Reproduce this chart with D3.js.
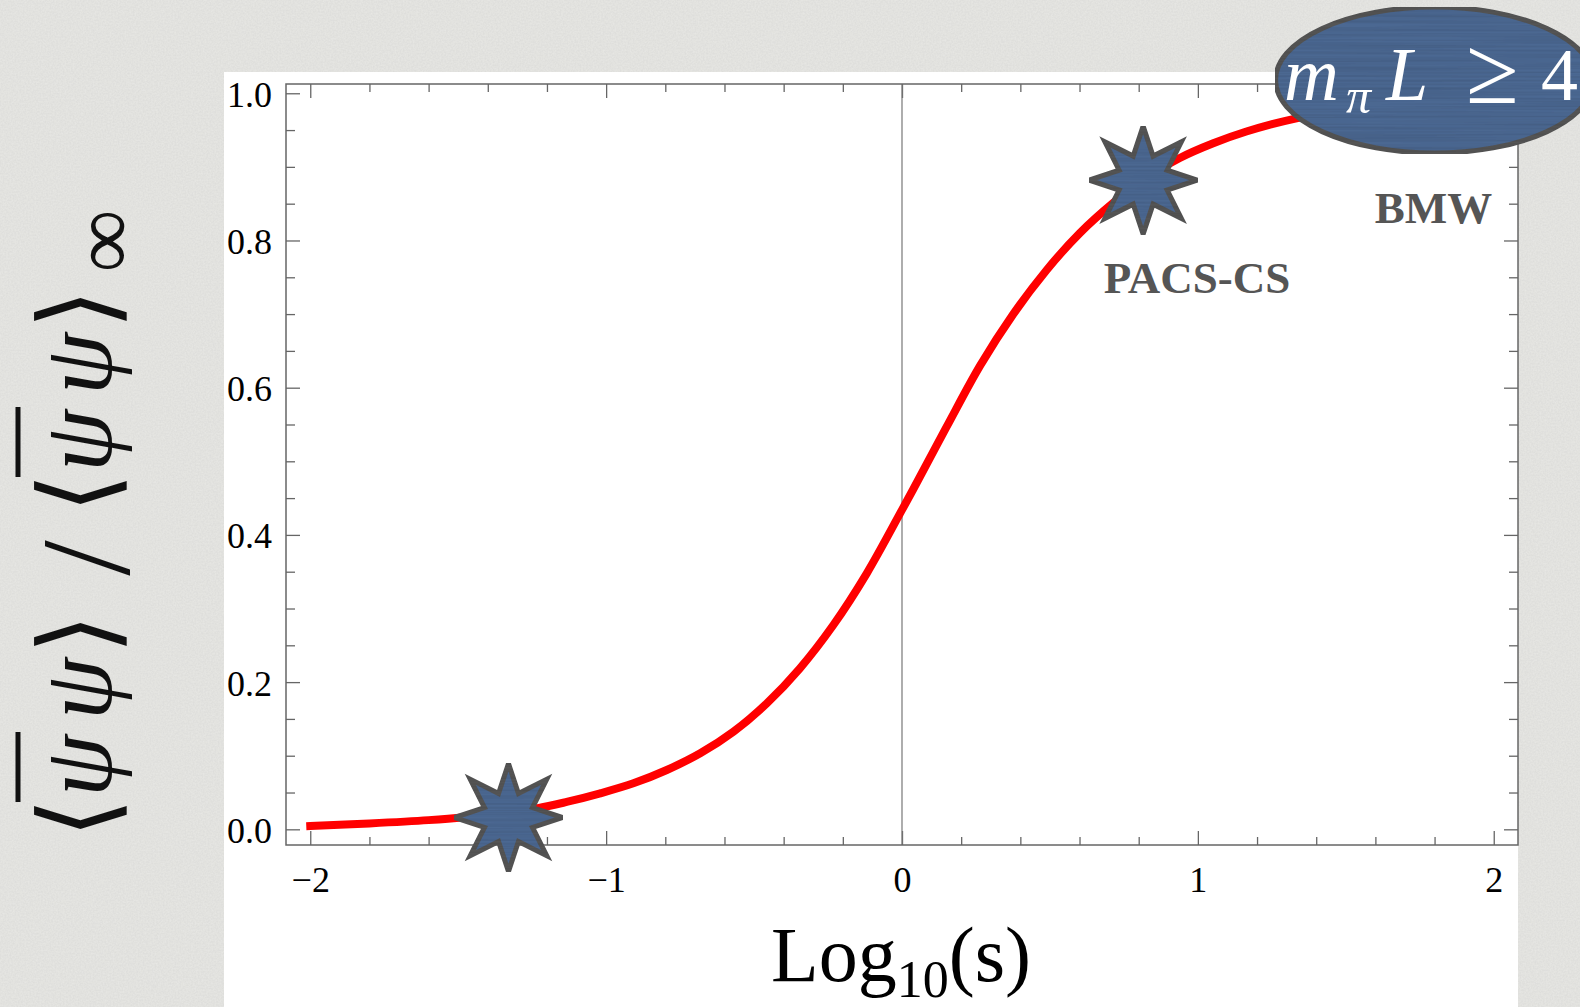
<!DOCTYPE html>
<html>
<head>
<meta charset="utf-8">
<script src="https://cdn.jsdelivr.net/npm/d3@7"></script>
<style>
  html, body { margin: 0; padding: 0; background: #e7e7e4; overflow: hidden; }
  svg { display: block; }
</style>
</head>
<body>
<div id="chart"></div>
<script>
// curve
const logS  = [-2.0, -1.8, -1.6, -1.48, -1.235, -1.13, -1.02, -0.908, -0.795, -0.682, -0.57, -0.457,
               -0.345, -0.232, -0.119, 0.0, 0.038, 0.151, 0.264, 0.376, 0.489, 0.601, 0.714,
               0.815, 0.939, 1.052, 1.164, 1.333, 1.5, 1.75, 2.0];
const ratio = [0.0045, 0.008, 0.0125, 0.0165, 0.0285, 0.0375, 0.0489, 0.0625, 0.0806, 0.1033, 0.1326, 0.1712,
               0.2188, 0.2776, 0.3478, 0.434, 0.462, 0.547, 0.630, 0.700, 0.760, 0.810, 0.851,
               0.882, 0.912, 0.932, 0.948, 0.966, 0.977, 0.987, 0.993];

// lattice results marked on the curve
const starX = [-1.33, 0.815];
const starY = [0.016, 0.882];

const xTicks = [-2, -1, 0, 1, 2];
const yTicks = [0, 0.2, 0.4, 0.6, 0.8, 1.0];
const xMinor = d3.range(-2, 2.001, 0.2).map(v => +v.toFixed(1)).filter(v => !xTicks.includes(v));
const yMinor = d3.range(0, 1.001, 0.05).map(v => +v.toFixed(2)).filter(v => !yTicks.map(t => +t.toFixed(2)).includes(v));

const width = 1580;
const height = 1007;
const serif = "'Liberation Serif', 'DejaVu Serif', serif";

const svg = d3.select('#chart')
  .append('svg')
    .attr('width', width)
    .attr('height', height);

const defs = svg.append('defs');

// fine horizontal streaks like the brushed fill in the picture
const grain = defs.append('filter').attr('id', 'grain')
    .attr('x', 0).attr('y', 0).attr('width', 1).attr('height', 1);
grain.append('feTurbulence')
    .attr('type', 'fractalNoise')
    .attr('baseFrequency', '0.004 0.5')
    .attr('numOctaves', 2)
    .attr('seed', 3)
    .attr('result', 'noise');
grain.append('feColorMatrix')
    .attr('in', 'noise')
    .attr('type', 'matrix')
    .attr('values', '0 0 0 0 0  0 0 0 0 0  0 0 0 0 0  0 0 0 0.35 -0.1')
    .attr('result', 'streaks');
grain.append('feComposite')
    .attr('in', 'streaks').attr('in2', 'SourceGraphic')
    .attr('operator', 'atop');

const paper = defs.append('filter').attr('id', 'paper')
    .attr('x', 0).attr('y', 0).attr('width', 1).attr('height', 1);
paper.append('feTurbulence')
    .attr('type', 'fractalNoise')
    .attr('baseFrequency', '0.6')
    .attr('numOctaves', 2)
    .attr('seed', 7)
    .attr('result', 'noise');
paper.append('feColorMatrix')
    .attr('in', 'noise')
    .attr('type', 'matrix')
    .attr('values', '0 0 0 0 0  0 0 0 0 0  0 0 0 0 0  0 0 0 0.12 0')
    .attr('result', 'specks');
paper.append('feComposite')
    .attr('in', 'specks').attr('in2', 'SourceGraphic')
    .attr('operator', 'atop');

svg.append('rect')
    .attr('width', width).attr('height', height)
    .attr('fill', '#e8e8e5')
    .attr('filter', 'url(#paper)');

svg.append('rect')
    .attr('x', 224).attr('y', 72)
    .attr('width', 1518 - 224).attr('height', height - 72)
    .attr('fill', '#ffffff');

// frame edges carry the plot-range padding of the original
const x = d3.scaleLinear().domain([-2.082, 2.082]).range([286, 1518]);
const y = d3.scaleLinear().domain([-0.0213, 1.0126]).range([845, 84]);

const frameColor = '#666';
const axisFont = 36;

function styleAxis(g) {
    g.select('.domain').remove();
    g.selectAll('.tick line').attr('stroke', frameColor).attr('stroke-width', 1.3);
    g.selectAll('text')
        .attr('font-family', serif)
        .attr('font-size', axisFont)
        .attr('fill', '#000');
}

// bottom
svg.append('g')
    .attr('transform', `translate(0,${y.range()[0]})`)
    .call(d3.axisBottom(x).tickValues(xMinor).tickSize(-8).tickFormat(''))
    .call(styleAxis);
svg.append('g')
    .attr('transform', `translate(0,${y.range()[0]})`)
    .call(d3.axisBottom(x).tickValues(xTicks).tickSize(-14).tickFormat(d3.format('d')))
    .call(styleAxis)
    .call(g => g.selectAll('text').attr('y', 47).attr('dy', 0));
// top
svg.append('g')
    .attr('transform', `translate(0,${y.range()[1]})`)
    .call(d3.axisTop(x).tickValues(xMinor).tickSize(-8).tickFormat(''))
    .call(styleAxis);
svg.append('g')
    .attr('transform', `translate(0,${y.range()[1]})`)
    .call(d3.axisTop(x).tickValues(xTicks).tickSize(-14).tickFormat(''))
    .call(styleAxis);
// left
svg.append('g')
    .attr('transform', `translate(${x.range()[0]},0)`)
    .call(d3.axisLeft(y).tickValues(yMinor).tickSize(-9).tickFormat(''))
    .call(styleAxis);
svg.append('g')
    .attr('transform', `translate(${x.range()[0]},0)`)
    .call(d3.axisLeft(y).tickValues(yTicks).tickSize(-14).tickFormat(d3.format('.1f')))
    .call(styleAxis)
    .call(g => g.selectAll('text').attr('x', -14).attr('dy', '0.36em'));
// right
svg.append('g')
    .attr('transform', `translate(${x.range()[1]},0)`)
    .call(d3.axisRight(y).tickValues(yMinor).tickSize(-9).tickFormat(''))
    .call(styleAxis);
svg.append('g')
    .attr('transform', `translate(${x.range()[1]},0)`)
    .call(d3.axisRight(y).tickValues(yTicks).tickSize(-14).tickFormat(''))
    .call(styleAxis);

// the vertical axis line at Log10(s) = 0
svg.append('line')
    .attr('x1', x(0)).attr('x2', x(0))
    .attr('y1', y.range()[1]).attr('y2', y.range()[0])
    .attr('stroke', '#777')
    .attr('stroke-width', 1.2);

svg.append('rect')
    .attr('x', x.range()[0]).attr('y', y.range()[1])
    .attr('width', x.range()[1] - x.range()[0])
    .attr('height', y.range()[0] - y.range()[1])
    .attr('fill', 'none')
    .attr('stroke', frameColor)
    .attr('stroke-width', 1.5);

// the curve
const line = d3.line()
    .x((d, i) => x(logS[i]))
    .y((d, i) => y(ratio[i]))
    .curve(d3.curveCatmullRom.alpha(0.5));

svg.append('path')
    .datum(logS)
    .attr('d', line)
    .attr('fill', 'none')
    .attr('stroke', '#ff0000')
    .attr('stroke-width', 8)
    .attr('stroke-linecap', 'square');

// eight-pointed stars
const starBlue = '#4b6892';
const markStroke = '#555';

function starPath(rOuter, rInner) {
    const pts = d3.range(16).map(k => {
        const a = k * Math.PI / 8 - Math.PI / 2;
        const r = k % 2 === 0 ? rOuter : rInner;
        return [r * Math.cos(a), r * Math.sin(a)];
    });
    return 'M' + pts.map(p => p.join(',')).join('L') + 'Z';
}

svg.append('g').selectAll('path')
    .data(starX)
    .join('path')
      .attr('transform', (d, i) => `translate(${x(d)},${y(starY[i])})`)
      .attr('d', starPath(54, 26))
      .attr('fill', starBlue)
      .attr('stroke', markStroke)
      .attr('stroke-width', 5)
      .attr('stroke-linejoin', 'miter')
      .attr('filter', 'url(#grain)');

svg.append('text')
    .attr('x', x(0.997)).attr('y', y(0.729))
    .attr('text-anchor', 'middle')
    .attr('font-family', serif)
    .attr('font-weight', 'bold')
    .attr('font-size', 45)
    .attr('fill', '#555')
    .text('PACS-CS');

svg.append('text')
    .attr('x', x(1.995)).attr('y', y(0.824))
    .attr('text-anchor', 'end')
    .attr('font-family', serif)
    .attr('font-weight', 'bold')
    .attr('font-size', 45)
    .attr('fill', '#555')
    .text('BMW');

// BMW bubble, partly outside the frame
svg.append('ellipse')
    .attr('cx', x(1.80)).attr('cy', y(1.018))
    .attr('rx', 159).attr('ry', 73)
    .attr('fill', starBlue)
    .attr('stroke', markStroke)
    .attr('stroke-width', 5)
    .attr('filter', 'url(#grain)');

const bubble = svg.append('g')
    .attr('font-family', serif)
    .attr('fill', '#fff');
bubble.append('text').attr('x', 1284).attr('y', 100)
    .attr('font-size', 76).attr('font-style', 'italic').text('m');
bubble.append('text').attr('x', 1346).attr('y', 113)
    .attr('font-size', 50).attr('font-style', 'italic').text('π');
bubble.append('text').attr('x', 1386).attr('y', 100)
    .attr('font-size', 76).attr('font-style', 'italic').text('L');
bubble.append('text').attr('x', 1466).attr('y', 103)
    .attr('font-size', 96).text('≥');
bubble.append('text').attr('x', 1541).attr('y', 100)
    .attr('font-size', 74).text('4');

// x title
svg.append('text')
    .attr('x', 771).attr('y', 981)
    .attr('font-family', serif)
    .attr('font-size', 78)
    .attr('fill', '#000')
    .call(t => {
        t.append('tspan').text('Log');
        t.append('tspan').attr('font-size', 52).attr('dy', 16).text('10');
        t.append('tspan').attr('dy', -16).text('(s)');
    });

// y title, laid out glyph by glyph along the rotated baseline
const titleGlyphs = [
    {t: '⟨', c: 818, size: 104, dy: 2, italic: false},
    {t: 'ψ', c: 766, size: 100, dy: 0, italic: true},
    {t: 'ψ', c: 689, size: 100, dy: 0, italic: true},
    {t: '⟩', c: 634, size: 104, dy: 2, italic: false},
    {t: '/', c: 558, size: 128, dy: 18, italic: false},
    {t: '⟨', c: 493, size: 104, dy: 2, italic: false},
    {t: 'ψ', c: 441, size: 100, dy: 0, italic: true},
    {t: 'ψ', c: 364, size: 100, dy: 0, italic: true},
    {t: '⟩', c: 309, size: 104, dy: 2, italic: false},
    {t: '∞', c: 241, size: 88, dy: 22, italic: false}
];
const yTitle = svg.append('g')
    .attr('transform', 'translate(111,0) rotate(-90)')
    .attr('font-family', serif)
    .attr('fill', '#111');
yTitle.selectAll('text')
    .data(titleGlyphs)
    .join('text')
      .attr('x', d => -d.c)
      .attr('y', d => d.dy)
      .attr('text-anchor', 'middle')
      .attr('font-size', d => d.size)
      .attr('font-style', d => d.italic ? 'italic' : 'normal')
      .text(d => d.t);
// bars over the first psi of each pair
yTitle.selectAll('line')
    .data([766, 441])
    .join('line')
      .attr('x1', d => -d - 36).attr('x2', d => -d + 34)
      .attr('y1', -93).attr('y2', -93)
      .attr('stroke', '#111')
      .attr('stroke-width', 5);
</script>
</body>
</html>
